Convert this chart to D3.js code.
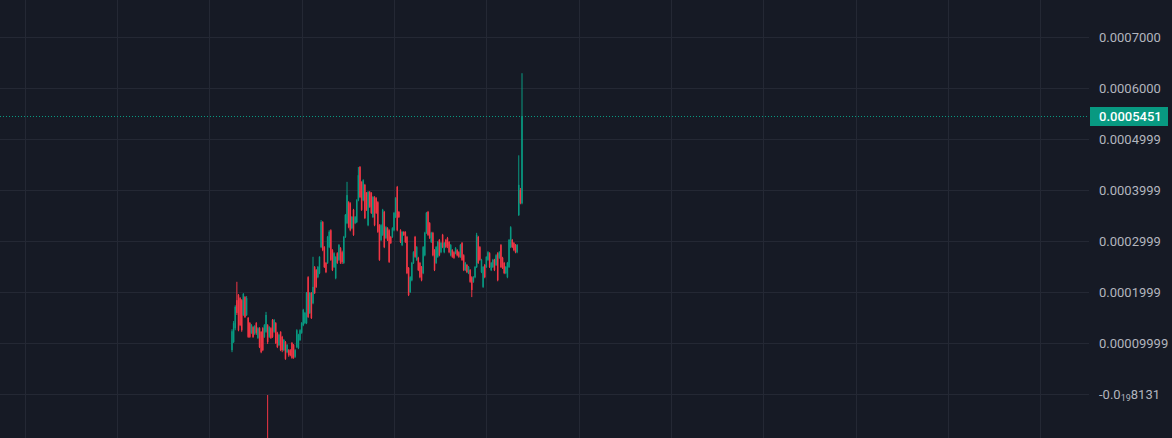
<!DOCTYPE html>
<html><head><meta charset="utf-8">
<script src="https://cdn.jsdelivr.net/npm/d3@7"></script>
<style>html,body{margin:0;padding:0;background:#161a25;overflow:hidden}svg{display:block}</style>
</head><body><svg id="c" width="1172" height="438"></svg>
<script>
// Prices in micro units (1 = 0.000001)
const opens = [86,102,129,184,194,188,184,155,190,155,
149,139,120,131,118,139,110,129,122,129,
112,122,135,112,129,145,122,139,120,96,
122,112,86,102,82,86,86,100,96,73,
92,90,106,120,135,139,139,229,159,198,
178,249,243,229,237,288,337,288,257,257,
288,321,282,249,227,276,263,286,278,257,
308,335,376,374,325,361,335,337,380,445,
416,380,410,394,331,396,394,347,386,384,
376,331,302,312,357,306,325,321,308,308,
321,347,406,357,321,292,318,318,308,247,
200,223,257,308,263,267,257,249,237,272,
316,357,335,298,316,282,257,269,302,278,
312,278,302,306,298,272,282,278,276,282,
278,269,296,272,243,253,237,243,229,220,
229,249,308,288,239,210,253,249,263,276,
243,249,263,253,276,267,292,267,257,237,
229,249,288,302,296,292,278,351,400,374];
const highs = [127,143,174,220,196,190,186,198,192,192,
151,141,137,133,135,141,131,131,123,131,
137,161,137,133,131,147,147,141,122,118,
123,114,108,104,98,88,88,102,98,88,
127,118,127,141,167,161,200,231,200,200,
269,251,245,251,270,341,339,290,259,310,
321,323,284,278,270,278,294,288,281,310,
353,416,378,376,349,363,349,382,445,447,
417,421,412,396,398,398,396,388,388,386,
378,333,333,363,359,329,327,323,310,327,
357,386,408,359,323,319,319,319,310,249,
231,259,280,310,290,269,259,251,290,318,
357,359,337,318,318,284,290,300,304,298,
314,298,304,308,300,294,284,280,288,284,
280,294,298,274,259,255,251,245,231,231,
251,316,310,290,265,251,255,270,280,278,
259,265,265,274,278,280,294,269,259,251,
259,304,329,304,298,294,294,468,404,629];
const lows = [82,100,125,155,123,133,122,153,149,153,
110,110,118,110,116,116,108,90,80,84,
110,120,98,110,108,110,120,98,90,94,
84,82,84,67,80,73,74,69,69,71,
90,88,104,118,133,137,137,149,157,147,
176,196,208,227,235,286,280,247,237,255,
286,261,241,247,225,255,261,255,255,255,
306,333,325,319,323,310,333,335,378,384,
359,378,343,359,329,365,353,345,329,353,
316,261,300,310,286,304,300,257,294,306,
319,345,319,345,296,290,310,296,235,192,
198,221,255,267,261,241,227,221,235,270,
314,310,304,296,270,241,255,267,270,276,
286,276,286,286,276,270,267,265,274,270,
267,267,261,241,241,237,235,218,190,218,
227,247,255,261,237,208,227,247,261,247,
241,247,241,251,221,265,247,245,235,235,
227,247,286,286,280,276,276,349,372,372];
const closes = [123,139,171,159,125,135,125,196,151,188,
112,112,135,112,133,120,129,92,82,86,
135,155,102,131,110,112,145,100,92,116,
86,86,106,69,96,76,76,71,71,86,
125,116,125,139,165,159,198,151,198,149,
210,198,210,249,269,337,282,249,239,308,
318,263,243,276,269,257,292,257,259,308,
351,390,327,321,347,312,347,380,429,386,
361,419,345,361,396,367,355,386,331,355,
318,263,331,361,288,327,302,259,296,325,
355,384,321,347,298,318,312,298,237,194,
229,257,278,269,288,243,229,223,288,316,
355,312,306,316,272,243,288,298,272,296,
288,296,288,290,278,292,269,267,286,272,
269,292,263,243,257,239,249,220,204,229,
249,312,257,263,263,249,229,269,278,249,
257,263,243,272,223,278,249,247,237,249,
257,302,327,288,282,278,292,410,374,545];
// bad tick (outlier wick)
const spikeIndex = [22];
const spikeHigh = [-2];
const spikeLow = [-300];
// price scale ticks
const tickValues = [700,600,500,400,300,200,100,0];
const tickLabels = ["0.0007000","0.0006000","0.0004999","0.0003999","0.0002999","0.0001999","0.00009999","-0.0{19}8131"];
const lastPriceLabel = "0.0005451";
// time grid positions (in bar-index units)
const timeGridIndex = [-128,-71,-14,43,100,157,214,271,328,385,442,499];

const W = 1172, H = 438, plotRight = 1089;
const UP = "#089981", DOWN = "#f23645";
const svg = d3.select("#c");
svg.append("rect").attr("width", W).attr("height", H).attr("fill", "#161a25");

const n = closes.length;
const x = d3.scaleLinear().domain([0, n - 1]).range([232, 522]);
const y = d3.scaleLinear().domain([0, 700]).range([394, 37]);

const grid = svg.append("g").attr("shape-rendering", "crispEdges");
grid.selectAll("line.h").data(tickValues).join("line").attr("class", "h")
  .attr("x1", 0).attr("x2", plotRight)
  .attr("y1", d => Math.round(y(d)) + 0.5).attr("y2", d => Math.round(y(d)) + 0.5)
  .attr("stroke", "#242834").attr("stroke-width", 1);
grid.selectAll("line.v").data(timeGridIndex).join("line").attr("class", "v")
  .attr("x1", d => Math.round(x(d)) + 0.5).attr("x2", d => Math.round(x(d)) + 0.5)
  .attr("y1", 0).attr("y2", H)
  .attr("stroke", "#242834").attr("stroke-width", 1);

const plot = svg.append("g");
const data = d3.range(n).map(i => ({i, o: opens[i], h: highs[i], l: lows[i], c: closes[i]}));
const bw = 1.5;
plot.selectAll("line.wick").data(data).join("line").attr("class", "wick")
  .attr("x1", d => x(d.i)).attr("x2", d => x(d.i))
  .attr("y1", d => y(d.h)).attr("y2", d => y(d.l))
  .attr("stroke", d => d.c >= d.o ? UP : DOWN).attr("stroke-width", 1);
plot.selectAll("rect.body").data(data).join("rect").attr("class", "body")
  .attr("x", d => x(d.i) - bw / 2).attr("width", bw)
  .attr("y", d => y(Math.max(d.o, d.c)))
  .attr("height", d => Math.max(1, Math.abs(y(d.o) - y(d.c))))
  .attr("fill", d => d.c >= d.o ? UP : DOWN);
plot.selectAll("line.spike").data(spikeIndex).join("line").attr("class", "spike")
  .attr("x1", (d) => x(d)).attr("x2", d => x(d))
  .attr("y1", (d, k) => y(spikeHigh[k])).attr("y2", (d, k) => y(spikeLow[k]))
  .attr("stroke", DOWN).attr("stroke-width", 1);

// last price dotted line
const lastPrice = closes[n - 1];
svg.append("line").attr("x1", 0).attr("x2", plotRight)
  .attr("y1", Math.round(y(lastPrice)) + 0.5).attr("y2", Math.round(y(lastPrice)) + 0.5)
  .attr("stroke", UP).attr("stroke-width", 1).attr("stroke-dasharray", "1,2");

// price axis
const axis = d3.axisRight(y).tickValues(tickValues).tickSize(0).tickPadding(10)
  .tickFormat((d, k) => tickLabels[k]);
const ag = svg.append("g").attr("transform", `translate(${plotRight},0)`).call(axis);
ag.select(".domain").remove();
ag.selectAll("text").attr("fill", "#b2b5be").attr("font-family", "Roboto, 'Noto Sans', sans-serif")
  .attr("font-size", 13)
  .each(function (d, k) {
    const s = tickLabels[k];
    const m = s.match(/^(.*)\{(\d+)\}(.*)$/);
    if (m) {
      const t = d3.select(this).text(null);
      t.append("tspan").text(m[1]);
      t.append("tspan").attr("font-size", 9).attr("dy", 2).text(m[2]);
      t.append("tspan").attr("dy", -2).text(m[3]);
    }
  });

// last price label
const ly = y(lastPrice);
svg.append("rect").attr("x", plotRight + 1).attr("y", Math.round(ly) - 9).attr("width", 78).attr("height", 19)
  .attr("fill", UP);
svg.append("text").attr("x", plotRight + 10).attr("y", ly).attr("dy", "0.35em")
  .attr("fill", "#ffffff").attr("font-family", "Roboto, 'Noto Sans', sans-serif")
  .attr("font-size", 13).attr("font-weight", 500).text(lastPriceLabel);
</script>
</body></html>
